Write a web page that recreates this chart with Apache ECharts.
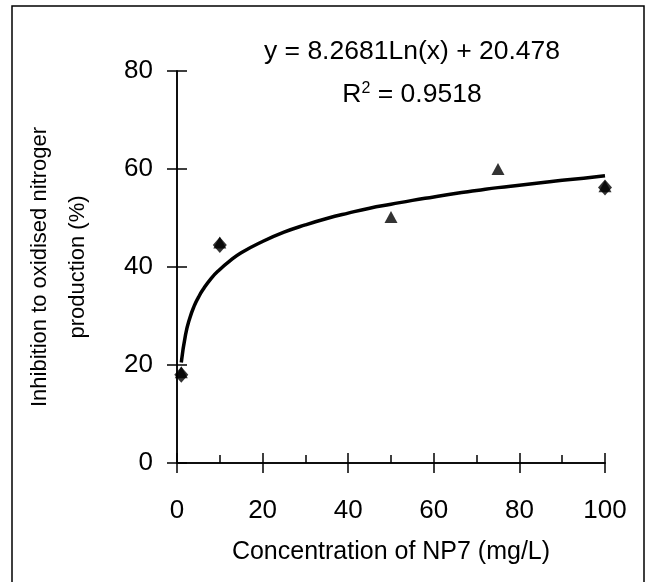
<!DOCTYPE html>
<html>
<head>
<meta charset="utf-8">
<script src="https://cdn.jsdelivr.net/npm/echarts@6/dist/echarts.min.js"></script>
<style>html,body{margin:0;padding:0;background:#fff}#c{width:646px;height:582px}</style>
</head>
<body>
<div id="c"></div>
<script>
var xTickLabels = [0, 20, 40, 60, 80, 100];
var yTickLabels = [0, 20, 40, 60, 80];
var diamondX = [1, 10, 100];
var diamondY = [18, 44.5, 56.2];
var triangleX = [1, 10, 50, 75, 100];
var triangleY = [18.5, 45, 50.2, 60, 56.5];
// trendline points
var trendX = [1, 2, 3, 4, 5, 6, 8, 10, 12, 15, 20, 25, 30, 35, 40, 45, 50, 55, 60, 65, 70, 75, 80, 85, 90, 95, 100];
var trendY = [20.5, 26.2, 29.6, 32, 33.8, 35.3, 37.7, 39.5, 41, 42.9, 45.2, 47.1, 48.6, 49.9, 51, 52, 52.8, 53.6, 54.3, 55, 55.6, 56.2, 56.7, 57.2, 57.7, 58.1, 58.6];
var equationText = 'y = 8.2681Ln(x) + 20.478';
var r2Text = 'R{sup|2} = 0.9518';
var xName = 'Concentration of NP7 (mg/L)';
var yName = 'Inhibition to oxidised nitroger\nproduction (%)';

function pairs(xs, ys){ return xs.map(function(x,i){return [x, ys[i]];}); }

var font = '"Liberation Sans", Arial, sans-serif';
var chart = echarts.init(document.getElementById('c'), null, {renderer:'canvas'});
var axisLine = {show:true, lineStyle:{color:'#000', width:1.5}};
chart.setOption({
  animation:false,
  backgroundColor:'#fff',
  grid:{left:177, right:41, top:71, bottom:119, containLabel:false},
  xAxis:[{
    type:'value', min:0, max:100, interval:20, position:'bottom',
    axisLine:axisLine,
    axisTick:{show:true, inside:false, length:10, lineStyle:{color:'#000', width:1.5}},
    axisLabel:{show:true, color:'#000', fontSize:26, fontFamily:font, margin:35,
      formatter:function(v){return xTickLabels.indexOf(v)>=0 ? String(v) : '';}},
    splitLine:{show:false},
    name:xName, nameLocation:'middle', nameGap:77,
    nameTextStyle:{color:'#000', fontSize:25, fontFamily:font}
  },{
    type:'value', min:0, max:100, interval:20, position:'bottom',
    axisLine:axisLine,
    axisTick:{show:true, inside:true, length:10, lineStyle:{color:'#000', width:1.5}},
    minorTick:{show:true, splitNumber:2, length:8, lineStyle:{color:'#000', width:1.5}},
    axisLabel:{show:false}, splitLine:{show:false}
  }],
  yAxis:[{
    type:'value', min:0, max:80, interval:20, position:'left',
    axisLine:axisLine,
    axisTick:{show:true, inside:false, length:10, lineStyle:{color:'#000', width:1.5}},
    axisLabel:{show:true, color:'#000', fontSize:26, fontFamily:font, margin:24,
      formatter:function(v){return yTickLabels.indexOf(v)>=0 ? String(v) : '';}},
    splitLine:{show:false},
    name:yName, nameLocation:'middle', nameGap:80, nameRotate:90,
    nameTextStyle:{color:'#000', fontSize:22, fontFamily:font, lineHeight:38, align:'center'}
  },{
    type:'value', min:0, max:80, interval:20, position:'left',
    axisLine:axisLine,
    axisTick:{show:true, inside:true, length:10, lineStyle:{color:'#000', width:1.5}},
    axisLabel:{show:false}, splitLine:{show:false}
  }],
  series:[{
    type:'line', name:'trend', data:pairs(trendX, trendY), smooth:true,
    showSymbol:false, symbol:'none', lineStyle:{color:'#000', width:3.5}, z:2
  },{
    type:'scatter', name:'diamond', data:pairs(diamondX, diamondY),
    symbol:'diamond', symbolSize:[14,16], itemStyle:{color:'#000'}, z:3
  },{
    type:'scatter', name:'triangle', data:pairs(triangleX, triangleY),
    symbol:'triangle', symbolSize:[13,12], itemStyle:{color:'#000'}, z:3
  }],
  graphic:[{
    type:'rect', shape:{x:12, y:6, width:632, height:590},
    style:{fill:'none', stroke:'#000', lineWidth:1.5}, z:-1, silent:true
  },{
    type:'text', x:412, y:52, style:{text:equationText, font:'26.5px '+font, fill:'#000', align:'center', verticalAlign:'middle'}
  },{
    type:'text', x:412, y:95, style:{text:r2Text, font:'26.5px '+font, fill:'#000', align:'center', verticalAlign:'middle',
      rich:{sup:{fontSize:16, verticalAlign:'top', padding:[0,0,12,0], fontFamily:font, fill:'#000'}}}
  }]
});
</script>
</body>
</html>
